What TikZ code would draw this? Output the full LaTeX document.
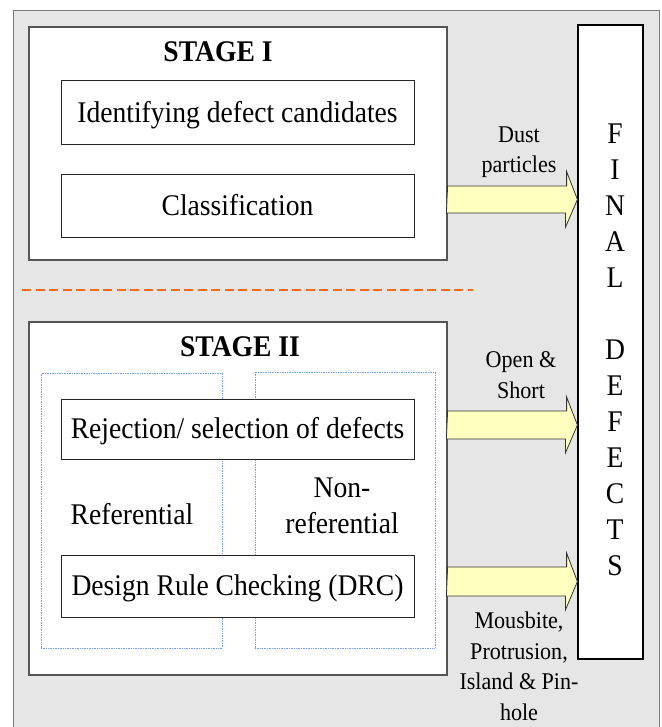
\documentclass[tikz,border=0pt]{standalone}
\usepackage{fontspec}
\setmainfont{Liberation Serif}[FakeStretch=0.92]
\definecolor{bggray}{HTML}{E6E6E6}
\definecolor{framegray}{HTML}{7A7A7A}
\definecolor{stagegray}{HTML}{555555}
\definecolor{arrowyellow}{HTML}{FFFFC0}
\definecolor{dotblue}{HTML}{6E9BFF}
\definecolor{dashorange}{HTML}{FF6A13}
\newcommand{\mainfs}{\fontsize{30pt}{36pt}\selectfont}
\newcommand{\labfs}{\fontsize{24pt}{30.5pt}\selectfont}
\begin{document}
\begin{tikzpicture}[x=1pt,y=-1pt,
  stagebox/.style={draw=stagegray, fill=white, line width=1.2pt, inner sep=0pt},
  inbox/.style={draw=black!85, fill=white, line width=1pt, inner sep=0pt,
    minimum width=353pt, text height=26pt, text depth=7pt, font=\mainfs},
  bluebox/.style={draw=dotblue, densely dotted, line width=0.7pt, inner sep=0pt},
  blk/.style={draw=black!80, fill=arrowyellow, line width=0.8pt, line join=miter},
  stitle/.style={font=\mainfs\bfseries, anchor=base, inner sep=0pt},
  txt/.style={font=\mainfs, anchor=base, inner sep=0pt, align=center},
  lab/.style={font=\labfs, anchor=base, inner sep=0pt, align=center}]
\useasboundingbox (0,0) rectangle (661,727);
% background frame
\fill[bggray] (13,11) rectangle (659,740);
\draw[framegray, line width=1pt] (13,740) -- (13,11) -- (659,11) -- (659,740);
% stage boxes
\node[stagebox, minimum width=418pt, minimum height=233pt] (s1) at (238,143.5) {};
\node[stagebox, minimum width=418pt, minimum height=353pt] (s2) at (238,498.5) {};
% separator
\draw[dashorange, line width=2pt, dash pattern=on 9pt off 4.5pt] (22,290) -- (473,290);
% titles
\node[stitle] (t1) at (218,62) {STAGE I};
\node[stitle] (t2) at (240,356) {STAGE II};
% stage I boxes
\node[inbox, minimum height=64pt] (idc) at (237.5,113) {Identifying defect candidates};
\node[inbox, minimum height=62pt] (cls) at (237.5,206) {Classification};
% blue dotted groups
\node[bluebox, minimum width=181pt, minimum height=275pt] (gref) at (131.5,510.5) {};
\node[bluebox, minimum width=180pt, minimum height=276pt] (gnon) at (345,510) {};
% stage II boxes
\node[inbox, minimum height=60pt] (rej) at (237.5,429) {Rejection/ selection of defects};
\node[inbox, minimum height=62pt] (drc) at (237.5,586) {Design Rule Checking (DRC)};
\node[txt] (ref) at (132,524) {Referential};
\node[txt] (nonref) at (342,533) {Non-\\referential};
% final defects
\node[draw=black, fill=white, line width=1.2pt, minimum width=65pt, minimum height=634pt, inner sep=0pt] (fin) at (610.5,342) {};
\node[font=\mainfs, anchor=base, inner sep=0pt, align=center] (fintxt) at (615,575)
  {\baselineskip=35.67pt F\\I\\N\\A\\L\\\mbox{}\\D\\E\\F\\E\\C\\T\\S};
% arrows
\coordinate (a1) at (s1.east |- 0,199.5);
\coordinate (a2) at (s2.east |- 0,425);
\coordinate (a3) at (s2.east |- 0,581.5);
\draw[blk] (a1) ++(0,-13.5) -- ++(119,0) -- ++(0,-14.5) -- (fin.west |- a1) -- ++(-12,28) -- ++(0,-14.5) -- ++(-119,0) -- cycle;
\draw[blk] (a2) ++(0,-14) -- ++(119,0) -- ++(0,-14) -- (fin.west |- a2) -- ++(-12,28) -- ++(0,-14) -- ++(-119,0) -- cycle;
\draw[blk] (a3) ++(0,-14.5) -- ++(119,0) -- ++(0,-14) -- (fin.west |- a3) -- ++(-12,28.5) -- ++(0,-14) -- ++(-119,0) -- cycle;
% arrow labels
\node[lab] (l1) at (519,173) {Dust\\particles};
\node[lab] (l2) at (521,398) {Open \&\\Short};
\node[lab] (l3) at (519,720) {Mousbite,\\Protrusion,\\Island \& Pin-\\hole};
\end{tikzpicture}
\end{document}
